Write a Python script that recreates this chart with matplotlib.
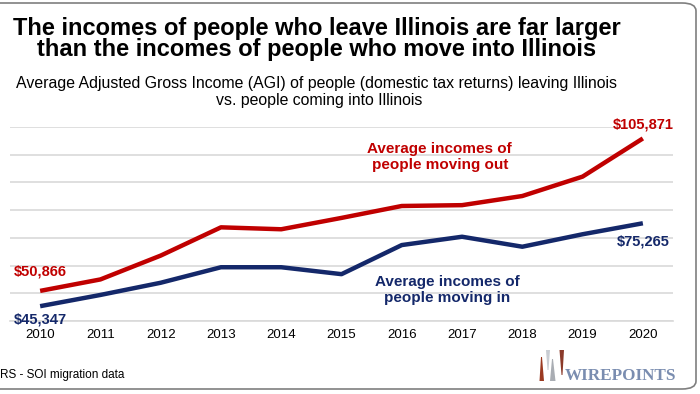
import numpy as np
import matplotlib.pyplot as plt
from matplotlib.patches import FancyBboxPatch, Polygon

plt.rcParams['font.family'] = ['Liberation Sans', 'DejaVu Sans']

# Illinois migration - average AGI
years = [2010, 2011, 2012, 2013, 2014, 2015, 2016, 2017, 2018, 2019, 2020]
income_out = [50866, 55000, 63600, 73800, 73100, 77200, 81500, 81800, 85100, 92100, 105871]
income_in = [45347, 49400, 53800, 59400, 59400, 56900, 67400, 70400, 66800, 71300, 75265]
grid_vals = [40000, 50000, 60000, 70000, 80000, 90000, 100000, 110000]

red = '#C00000'
navy = '#14286A'

W, H = 700, 394
fig = plt.figure(figsize=(7, 3.94), dpi=100)
ax = fig.add_axes([10 / W, (H - 321) / H, 663 / W, 194 / H])

ax.plot(years, income_out, color=red, lw=3.2, solid_capstyle='butt')
ax.plot(years, income_in, color=navy, lw=3.2, solid_capstyle='butt')

ax.set_xlim(2009.5, 2020.5)
ax.set_ylim(40000, 110000)
ax.set_yticks(grid_vals)
ax.set_yticklabels([])
ax.set_xticks(years)
ax.set_xticklabels([str(y) for y in years], fontsize=9.5)
ax.tick_params(axis='y', length=0)
ax.tick_params(axis='x', length=0, pad=6)
ax.grid(axis='y', color='#D9D9D9', lw=1.2)
ax.set_axisbelow(True)
for s in ['top', 'right', 'left']:
    ax.spines[s].set_visible(False)
ax.spines['bottom'].set_color('#D9D9D9')
ax.spines['bottom'].set_linewidth(1.2)

# end labels
lab = dict(fontsize=10.5, fontweight='bold', ha='center', va='center',
           textcoords='offset pixels')
ax.annotate('${:,}'.format(income_out[0]), (years[0], income_out[0]), xytext=(0, 19), color=red, **lab)
ax.annotate('${:,}'.format(income_in[0]), (years[0], income_in[0]), xytext=(0, -13), color=navy, **lab)
ax.annotate('${:,}'.format(income_out[-1]), (years[-1], income_out[-1]), xytext=(0, 14), color=red, **lab)
ax.annotate('${:,}'.format(income_in[-1]), (years[-1], income_in[-1]), xytext=(0, -18), color=navy, **lab)

ax.text(2016.63, 99200, 'Average incomes of\npeople moving out', color=red,
        fontsize=11, fontweight='bold', ha='center', va='center')
ax.text(2016.76, 51200, 'Average incomes of\npeople moving in', color=navy,
        fontsize=11, fontweight='bold', ha='center', va='center')

# titles
fig.text(317 / W, (H - 35) / H, 'The incomes of people who leave Illinois are far larger',
         fontsize=17, fontweight='bold', ha='center', va='baseline')
fig.text(317 / W, (H - 56) / H, 'than the incomes of people who move into Illinois',
         fontsize=17, fontweight='bold', ha='center', va='baseline')
fig.text(317 / W, (H - 88) / H,
         'Average Adjusted Gross Income (AGI) of people (domestic tax returns) leaving Illinois',
         fontsize=11.4, ha='center', va='baseline')
fig.text(319 / W, (H - 105) / H, 'vs. people coming into Illinois',
         fontsize=11.4, ha='center', va='baseline')

fig.text(0 / W, (H - 375) / H, 'RS - SOI migration data', fontsize=8.5, ha='left', va='center')

# frame with rounded right corners
frame = FancyBboxPatch((-30 / W, 5 / H), 726 / W, 386 / H,
                       boxstyle='round,pad=0,rounding_size=0.02',
                       transform=fig.transFigure, fill=False,
                       edgecolor='#7F7F7F', lw=1.2)
fig.patches.append(frame)

# wirepoints logo: tapered wedges
wedges = [
    ((541, 542, 357), (539.5, 544, 381), '#9B3A22'),
    ((546, 550, 350), (547.5, 548.5, 370), '#C9CDD3'),
    ((552, 553, 359), (550, 555.5, 381), '#A9ADB3'),
    ((559.5, 564, 350), (561.5, 562.5, 375), '#8B3A2A'),
]
for (tl, tr, ty), (bl, br, by), c in wedges:
    pts = [(tl / W, (H - ty) / H), (tr / W, (H - ty) / H),
           (br / W, (H - by) / H), (bl / W, (H - by) / H)]
    fig.patches.append(Polygon(pts, closed=True, transform=fig.transFigure, color=c, lw=0))
fig.text(565 / W, (H - 380.5) / H, 'WIREPOINTS', fontsize=12.3, fontweight='bold',
         family='Liberation Serif', color='#7A8DB0', ha='left', va='baseline')

plt.savefig('out.png', dpi=100)
